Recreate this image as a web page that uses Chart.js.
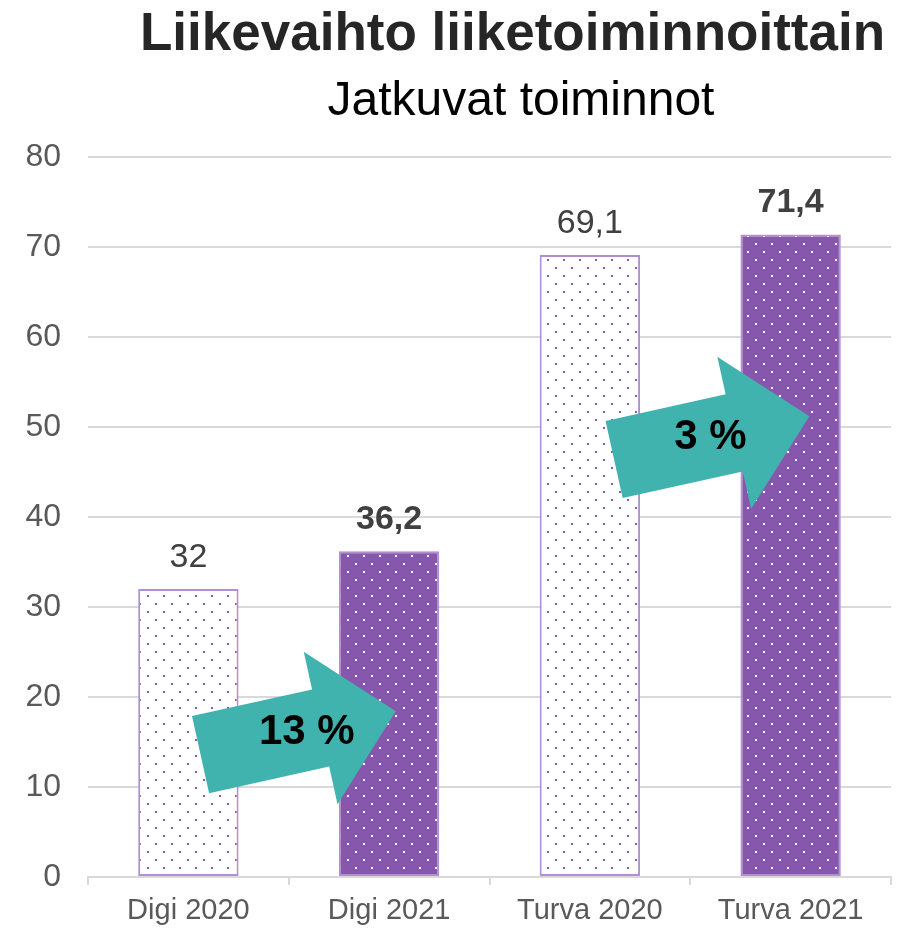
<!DOCTYPE html>
<html><head><meta charset="utf-8">
<script src="https://cdn.jsdelivr.net/npm/chart.js@4"></script>
<style>html,body{margin:0;padding:0;background:#fff}#wrap{width:897px;height:929px;position:relative}</style>
</head><body><div id="wrap"><canvas id="c" width="897" height="929"></canvas></div>
<script>
// ---- data ----
const titleText = 'Liikevaihto liiketoiminnoittain';
const subtitleText = 'Jatkuvat toiminnot';
const categories = ['Digi 2020', 'Digi 2021', 'Turva 2020', 'Turva 2021'];
const values = [32, 36.2, 69.1, 71.4];
const valueLabels = ['32', '36,2', '69,1', '71,4'];
const labelBold = [false, true, false, true];
const yMin = 0, yMax = 80, yStep = 10;
const arrowTexts = ['13 %', '3 %'];
const arrowX = [0.547, 2.607];   // category-index position of arrow centre
const arrowY = [16.0, 48.8];     // value position of arrow centre
const arrowTextX = [0.59, 2.60];
const arrowTextY = [16.2, 48.9];

const FONT = '"Liberation Sans", Arial, Helvetica, sans-serif';
const PURPLE = '#8757AD';
const BORDER = '#B18FD3';
const TEAL = '#40B3AE';

function makePattern(bg, dot) {
  const p = document.createElement('canvas');
  p.width = 16; p.height = 16;
  const g = p.getContext('2d');
  g.fillStyle = bg; g.fillRect(0, 0, 16, 16);
  g.fillStyle = dot;
  g.fillRect(3, 3, 2, 2);
  g.fillRect(11, 11, 2, 2);
  return g.createPattern(p, 'repeat');
}
const lightPat = makePattern('#ffffff', '#8458BC');
const darkPat = makePattern(PURPLE, '#ffffff');

const overlay = {
  id: 'overlay',
  afterDatasetsDraw(chart) {
    const ctx = chart.ctx;
    const meta = chart.getDatasetMeta(0);
    ctx.save();
    ctx.textAlign = 'center';
    ctx.textBaseline = 'alphabetic';
    meta.data.forEach((bar, i) => {
      ctx.font = (labelBold[i] ? 'bold ' : '') + '34px ' + FONT;
      ctx.fillStyle = '#404040';
      ctx.fillText(valueLabels[i], bar.x, bar.y - 22);
    });
    // arrows
    const xs = chart.scales.x, ys = chart.scales.y;
    const ang = -12.5 * Math.PI / 180;
    arrowTexts.forEach((t, i) => {
      const cx = xs.getPixelForValue(arrowX[i]);
      const cy = ys.getPixelForValue(arrowY[i]);
      ctx.save();
      ctx.translate(cx, cy);
      ctx.rotate(ang);
      ctx.beginPath();
      ctx.moveTo(-100, -39.5);
      ctx.lineTo(23, -39.5);
      ctx.lineTo(23, -78);
      ctx.lineTo(100, 0);
      ctx.lineTo(23, 78);
      ctx.lineTo(23, 39.5);
      ctx.lineTo(-100, 39.5);
      ctx.closePath();
      ctx.fillStyle = TEAL;
      ctx.fill();
      ctx.restore();
      const tx = xs.getPixelForValue(arrowTextX[i]);
      const ty = ys.getPixelForValue(arrowTextY[i]);
      ctx.font = 'bold 42px ' + FONT;
      ctx.fillStyle = '#000';
      ctx.textBaseline = 'middle';
      ctx.fillText(t, tx, ty + 1);
      ctx.textBaseline = 'alphabetic';
    });
    ctx.restore();
  },
  afterDraw(chart) {
    const ctx = chart.ctx;
    ctx.save();
    ctx.textBaseline = 'alphabetic';
    ctx.font = 'bold 53px ' + FONT;
    ctx.fillStyle = '#262626';
    ctx.textAlign = 'right';
    ctx.fillText(titleText, 885, 50);
    ctx.font = '48px ' + FONT;
    ctx.fillStyle = '#000';
    ctx.textAlign = 'center';
    ctx.fillText(subtitleText, 521, 115);
    ctx.restore();
  }
};

new Chart(document.getElementById('c'), {
  type: 'bar',
  data: {
    labels: categories,
    datasets: [{
      data: values,
      backgroundColor: [lightPat, darkPat, lightPat, darkPat],
      borderColor: BORDER,
      borderWidth: 2,
      borderSkipped: false,
      barPercentage: 0.5,
      categoryPercentage: 1.0
    }]
  },
  options: {
    responsive: false,
    animation: false,
    devicePixelRatio: 1,
    layout: { padding: { top: 157, right: 6, left: 0, bottom: 0 } },
    plugins: { legend: { display: false }, tooltip: { enabled: false }, title: { display: false } },
    scales: {
      x: {
        grid: { drawOnChartArea: false, drawTicks: true, tickLength: 8, color: '#d9d9d9', lineWidth: 2 },
        border: { display: true, color: '#d9d9d9', width: 2 },
        ticks: { font: { family: FONT, size: 29 }, color: '#595959', padding: 9 },
        afterFit(s) { s.height = 52; }
      },
      y: {
        min: yMin, max: yMax,
        grid: { color: '#d9d9d9', lineWidth: 2, drawTicks: false },
        border: { display: false },
        ticks: { stepSize: yStep, font: { family: FONT, size: 32 }, color: '#595959', padding: 27 },
        afterFit(s) { s.width = 88; }
      }
    }
  },
  plugins: [overlay]
});
</script></body></html>
